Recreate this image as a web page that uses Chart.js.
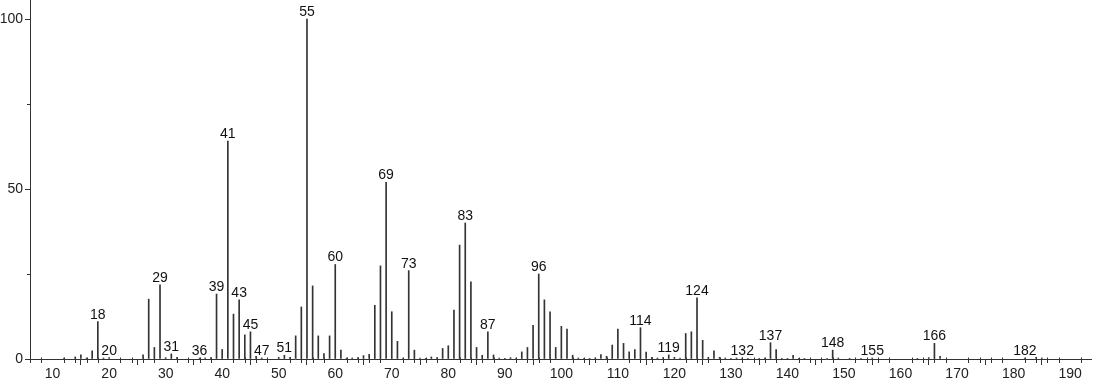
<!DOCTYPE html>
<html>
<head>
<meta charset="utf-8">
<script src="https://cdn.jsdelivr.net/npm/chart.js@4.4.1/dist/chart.umd.min.js"></script>
<style>
html,body{margin:0;padding:0;background:#fff;}
#wrap{width:1094px;height:384px;position:relative;}
</style>
</head>
<body>
<div id="wrap"><canvas id="c" width="1094" height="384"></canvas></div>
<script>
// m/z values
const masses = [12,14,15,16,17,18,19,20,26,27,28,29,30,31,32,36,37,38,39,40,41,42,43,44,45,46,47,
  50,51,52,53,54,55,56,57,58,59,60,61,62,63,64,65,66,67,68,69,70,71,72,73,74,75,76,77,78,79,80,
  81,82,83,84,85,86,87,88,89,90,91,92,93,94,95,96,97,98,99,100,101,102,103,104,105,106,107,108,109,110,
  111,112,113,114,115,116,117,118,119,120,121,122,123,124,125,126,127,128,129,130,131,132,133,135,136,137,138,139,140,
  141,142,143,147,148,149,151,153,155,163,165,166,167,182,184,185];
// relative intensities (%)
const intensities = [0.3,0.6,1.2,0.3,2.4,11.0,0.3,0.4,1.2,17.6,3.4,21.8,0.4,1.5,0.5,0.3,0.3,0.4,19.1,2.8,64.1,13.2,17.4,7.1,8.0,0.8,0.3,
  0.5,1.1,0.5,6.8,15.3,100,21.5,6.8,1.6,6.8,27.8,2.6,0.3,0.3,0.4,1.0,1.4,15.8,27.4,52.0,13.9,5.2,0.3,26.0,2.6,0.3,0.2,0.6,0.4,3.1,3.9,
  14.4,33.5,40.0,22.7,3.4,1.1,8.0,1.2,0.3,0.2,0.4,0.3,2.1,3.4,9.9,25.0,17.4,13.9,3.4,9.6,8.8,1.1,0.3,0.2,0.2,0.3,1.3,0.8,4.1,8.8,
  4.6,2.1,2.8,9.2,2.0,0.5,0.3,0.4,1.2,0.5,0.3,7.5,8.0,18.0,5.5,0.5,2.4,0.5,0.3,0.2,0.3,0.3,0.2,0.2,0.3,4.8,2.8,0.2,0.2,
  1.1,0.2,0.2,0.2,2.6,0.3,0.2,0.2,0.3,0.2,0.4,4.6,0.8,0.3,0.5,0.3];
// peaks carrying a label
const labelledMasses = [18,20,29,31,36,39,41,43,45,47,51,55,60,69,73,83,87,96,114,119,124,132,137,148,155,166,182];
// axis ticks
const xTickValues = [10,20,30,40,50,60,70,80,90,100,110,120,130,140,150,160,170,180,190];
const yTickValues = [0,50,100];
const yMinorTicks = [25,75];

const FONT = '"Liberation Sans", Arial, Helvetica, sans-serif';
const INK = '#222';

const extras = {
  id: 'extras',
  afterDraw(chart) {
    const ctx = chart.ctx;
    const xs = chart.scales.x, ys = chart.scales.y;
    const y0 = ys.getPixelForValue(0);
    ctx.save();
    ctx.strokeStyle = '#333';
    ctx.lineWidth = 1;
    // minor x ticks every 2
    for (let m = 6; m <= 193; m += 2) {
      if (m % 10 === 0) continue;
      const px = Math.round(xs.getPixelForValue(m)) + 0.5;
      ctx.beginPath();
      ctx.moveTo(px, y0 - 1.5);
      ctx.lineTo(px, y0 + 4);
      ctx.stroke();
    }
    // minor y ticks
    const xl = xs.left;
    yMinorTicks.forEach(v => {
      const py = Math.round(ys.getPixelForValue(v)) + 0.5;
      ctx.beginPath();
      ctx.moveTo(xl - 3, py);
      ctx.lineTo(xl, py);
      ctx.stroke();
    });
    // peak labels
    ctx.fillStyle = '#111';
    ctx.font = '14px ' + FONT;
    ctx.textAlign = 'center';
    ctx.textBaseline = 'alphabetic';
    labelledMasses.forEach(m => {
      const i = masses.indexOf(m);
      if (i < 0) return;
      const px = xs.getPixelForValue(m);
      const py = ys.getPixelForValue(intensities[i]);
      ctx.fillText(String(m), px, py - 3);
    });
    ctx.restore();
  }
};

new Chart(document.getElementById('c'), {
  type: 'bar',
  data: {
    datasets: [{
      data: masses.map((m, i) => ({x: m, y: intensities[i]})),
      backgroundColor: '#333',
      borderWidth: 0,
      barThickness: 1
    }]
  },
  options: {
    responsive: false,
    animation: false,
    events: [],
    layout: {padding: {left: 0, right: 3, top: 0, bottom: 0}},
    plugins: {legend: {display: false}, tooltip: {enabled: false}},
    scales: {
      x: {
        type: 'linear',
        min: 6,
        max: 193.7,
        offset: false,
        afterBuildTicks: s => { s.ticks = xTickValues.map(v => ({value: v})); },
        afterFit: s => { s.height = 25; s.paddingLeft = 0; s.paddingRight = 0; },
        ticks: {font: {family: FONT, size: 14}, color: INK, padding: 1, maxRotation: 0, autoSkip: false},
        grid: {display: true, drawOnChartArea: false, drawTicks: true, tickLength: 6, color: '#333'},
        border: {display: true, color: '#333', width: 1}
      },
      y: {
        min: 0,
        max: 105.6,
        afterBuildTicks: s => { s.ticks = yTickValues.map(v => ({value: v})); },
        afterFit: s => { s.width = 30; s.paddingTop = 0; s.paddingBottom = 0; },
        ticks: {font: {family: FONT, size: 14}, color: INK, padding: 2},
        grid: {display: true, drawOnChartArea: false, drawTicks: true, tickLength: 5, color: '#333'},
        border: {display: true, color: '#333', width: 1}
      }
    }
  },
  plugins: [extras]
});
</script>
</body>
</html>
